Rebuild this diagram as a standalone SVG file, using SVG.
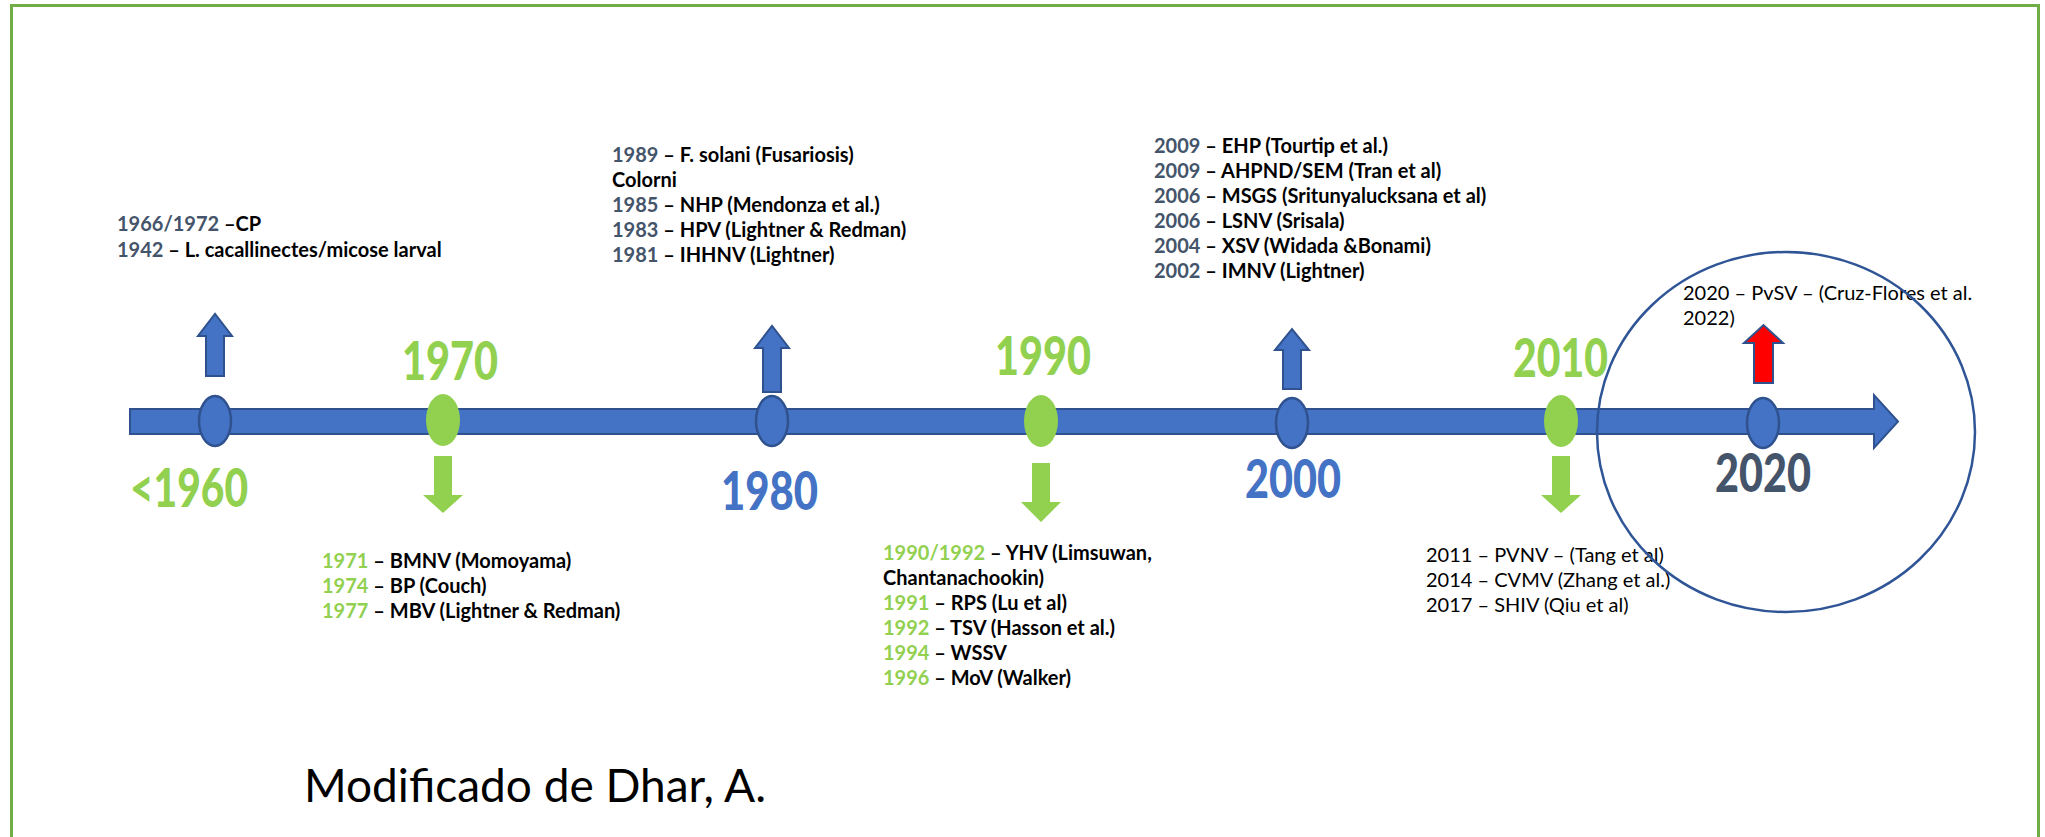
<svg xmlns="http://www.w3.org/2000/svg" width="2045" height="837" viewBox="0 0 2045 837">
<style>
.t{font-family:Lato,"Liberation Sans",sans-serif;font-size:20px;font-weight:bold;fill:#000}
.r{font-family:Lato,"Liberation Sans",sans-serif;font-size:20px;fill:#000}
.yb{fill:#44546A}
.yg{fill:#92D050}
.big{font-family:Lato,"Liberation Sans",sans-serif;font-size:54px;font-weight:900}
.dot{fill:#4472C4;stroke:#2F528F;stroke-width:2.5}
.gdot{fill:#92D050}
.up{fill:#4472C4;stroke:#2F528F;stroke-width:2}
.dn{fill:#92D050}
</style>
<rect x="0" y="0" width="2045" height="837" fill="#fff"/>
<rect x="11.5" y="5.5" width="2027" height="850" fill="none" stroke="#70AD47" stroke-width="3"/>
<g id="connectors">
<path id="timeline" d="M130,409 H1874 V395 L1898,421.5 L1874,448 V434 H130 Z" fill="#4472C4" stroke="#2F528F" stroke-width="2"/>
<path class="up" d="M206,376 V336 H198 L215,314 L232,336 H224 V376 Z"/>
<path class="up" d="M763,392 V348 H755 L772,326 L789,348 H781 V392 Z"/>
<path class="up" d="M1283,389 V350 H1275 L1292,329 L1309,350 H1301 V389 Z"/>
<path d="M1754,383 V343 H1744 L1763.5,325 L1783,343 H1773 V383 Z" fill="#FF0000" stroke="#2F528F" stroke-width="2"/>
<path class="dn" d="M434,456 H452 V495 H463 L443,513 L423,495 H434 Z"/>
<path class="dn" d="M1032,463 H1050 V502 H1061 L1041,522 L1021,502 H1032 Z"/>
<path class="dn" d="M1552,456 H1570 V495 H1581 L1561,513 L1541,495 H1552 Z"/>
</g>
<g id="n1960">
<ellipse class="dot" cx="215" cy="421" rx="16" ry="25"/>
<text class="big yg" x="130" y="507" textLength="118" lengthAdjust="spacingAndGlyphs">&lt;1960</text>
<text class="t" x="117" y="231"><tspan class="yb">1966/1972</tspan> –CP</text>
<text class="t" x="117" y="257"><tspan class="yb">1942</tspan> – L. cacallinectes/micose larval</text>
</g>
<g id="n1970">
<ellipse class="gdot" cx="443" cy="420" rx="17" ry="26"/>
<text class="big yg" x="402" y="380" textLength="96" lengthAdjust="spacingAndGlyphs">1970</text>
<text class="t" x="322" y="568"><tspan class="yg">1971</tspan> – BMNV (Momoyama)</text>
<text class="t" x="322" y="593"><tspan class="yg">1974</tspan> – BP (Couch)</text>
<text class="t" x="322" y="618"><tspan class="yg">1977</tspan> – MBV (Lightner &amp; Redman)</text>
</g>
<g id="n1980">
<ellipse class="dot" cx="772" cy="421" rx="16" ry="25"/>
<text class="big" x="721" y="510" fill="#4472C4" textLength="97" lengthAdjust="spacingAndGlyphs">1980</text>
<text class="t" x="612" y="162"><tspan class="yb">1989</tspan> – F. solani (Fusariosis)</text>
<text class="t" x="612" y="187">Colorni</text>
<text class="t" x="612" y="212"><tspan class="yb">1985</tspan> – NHP (Mendonza et al.)</text>
<text class="t" x="612" y="237"><tspan class="yb">1983</tspan> – HPV (Lightner &amp; Redman)</text>
<text class="t" x="612" y="262"><tspan class="yb">1981</tspan> – IHHNV (Lightner)</text>
</g>
<g id="n1990">
<ellipse class="gdot" cx="1041" cy="421" rx="17" ry="26"/>
<text class="big yg" x="995" y="375" textLength="96" lengthAdjust="spacingAndGlyphs">1990</text>
<text class="t" x="883" y="560"><tspan class="yg">1990/1992</tspan> – YHV (Limsuwan,</text>
<text class="t" x="883" y="585">Chantanachookin)</text>
<text class="t" x="883" y="610"><tspan class="yg">1991</tspan> – RPS (Lu et al)</text>
<text class="t" x="883" y="635"><tspan class="yg">1992</tspan> – TSV (Hasson et al.)</text>
<text class="t" x="883" y="660"><tspan class="yg">1994</tspan> – WSSV</text>
<text class="t" x="883" y="685"><tspan class="yg">1996</tspan> – MoV (Walker)</text>
</g>
<g id="n2000">
<ellipse class="dot" cx="1292" cy="423" rx="16" ry="25"/>
<text class="big" x="1245" y="498" fill="#4472C4" textLength="96" lengthAdjust="spacingAndGlyphs">2000</text>
<text class="t" x="1154" y="153"><tspan class="yb">2009</tspan> – EHP (Tourtip et al.)</text>
<text class="t" x="1154" y="178"><tspan class="yb">2009</tspan> – AHPND/SEM (Tran et al)</text>
<text class="t" x="1154" y="203"><tspan class="yb">2006</tspan> – MSGS (Sritunyalucksana et al)</text>
<text class="t" x="1154" y="228"><tspan class="yb">2006</tspan> – LSNV (Srisala)</text>
<text class="t" x="1154" y="253"><tspan class="yb">2004</tspan> – XSV (Widada &amp;Bonami)</text>
<text class="t" x="1154" y="278"><tspan class="yb">2002</tspan> – IMNV (Lightner)</text>
</g>
<g id="n2010">
<ellipse class="gdot" cx="1561" cy="421" rx="17" ry="26"/>
<text class="big yg" x="1513" y="377" textLength="95" lengthAdjust="spacingAndGlyphs">2010</text>
<text class="r" x="1426" y="562">2011 – PVNV – (Tang et al)</text>
<text class="r" x="1426" y="587">2014 – CVMV (Zhang et al.)</text>
<text class="r" x="1426" y="612">2017 – SHIV (Qiu et al)</text>
</g>
<g id="n2020">
<ellipse class="dot" cx="1763" cy="423" rx="16" ry="25"/>
<text class="big" x="1715" y="492" fill="#44546A" textLength="96" lengthAdjust="spacingAndGlyphs">2020</text>
<text class="r" x="1683" y="300">2020 – PvSV – (Cruz-Flores et al.</text>
<text class="r" x="1683" y="325">2022)</text>
<ellipse cx="1786" cy="432" rx="189" ry="180" fill="none" stroke="#2F5597" stroke-width="2.5"/>
</g>
<text x="304" y="802" font-family="Lato,'Liberation Sans',sans-serif" font-size="46" fill="#000">Modificado de Dhar, A.</text>
</svg>
